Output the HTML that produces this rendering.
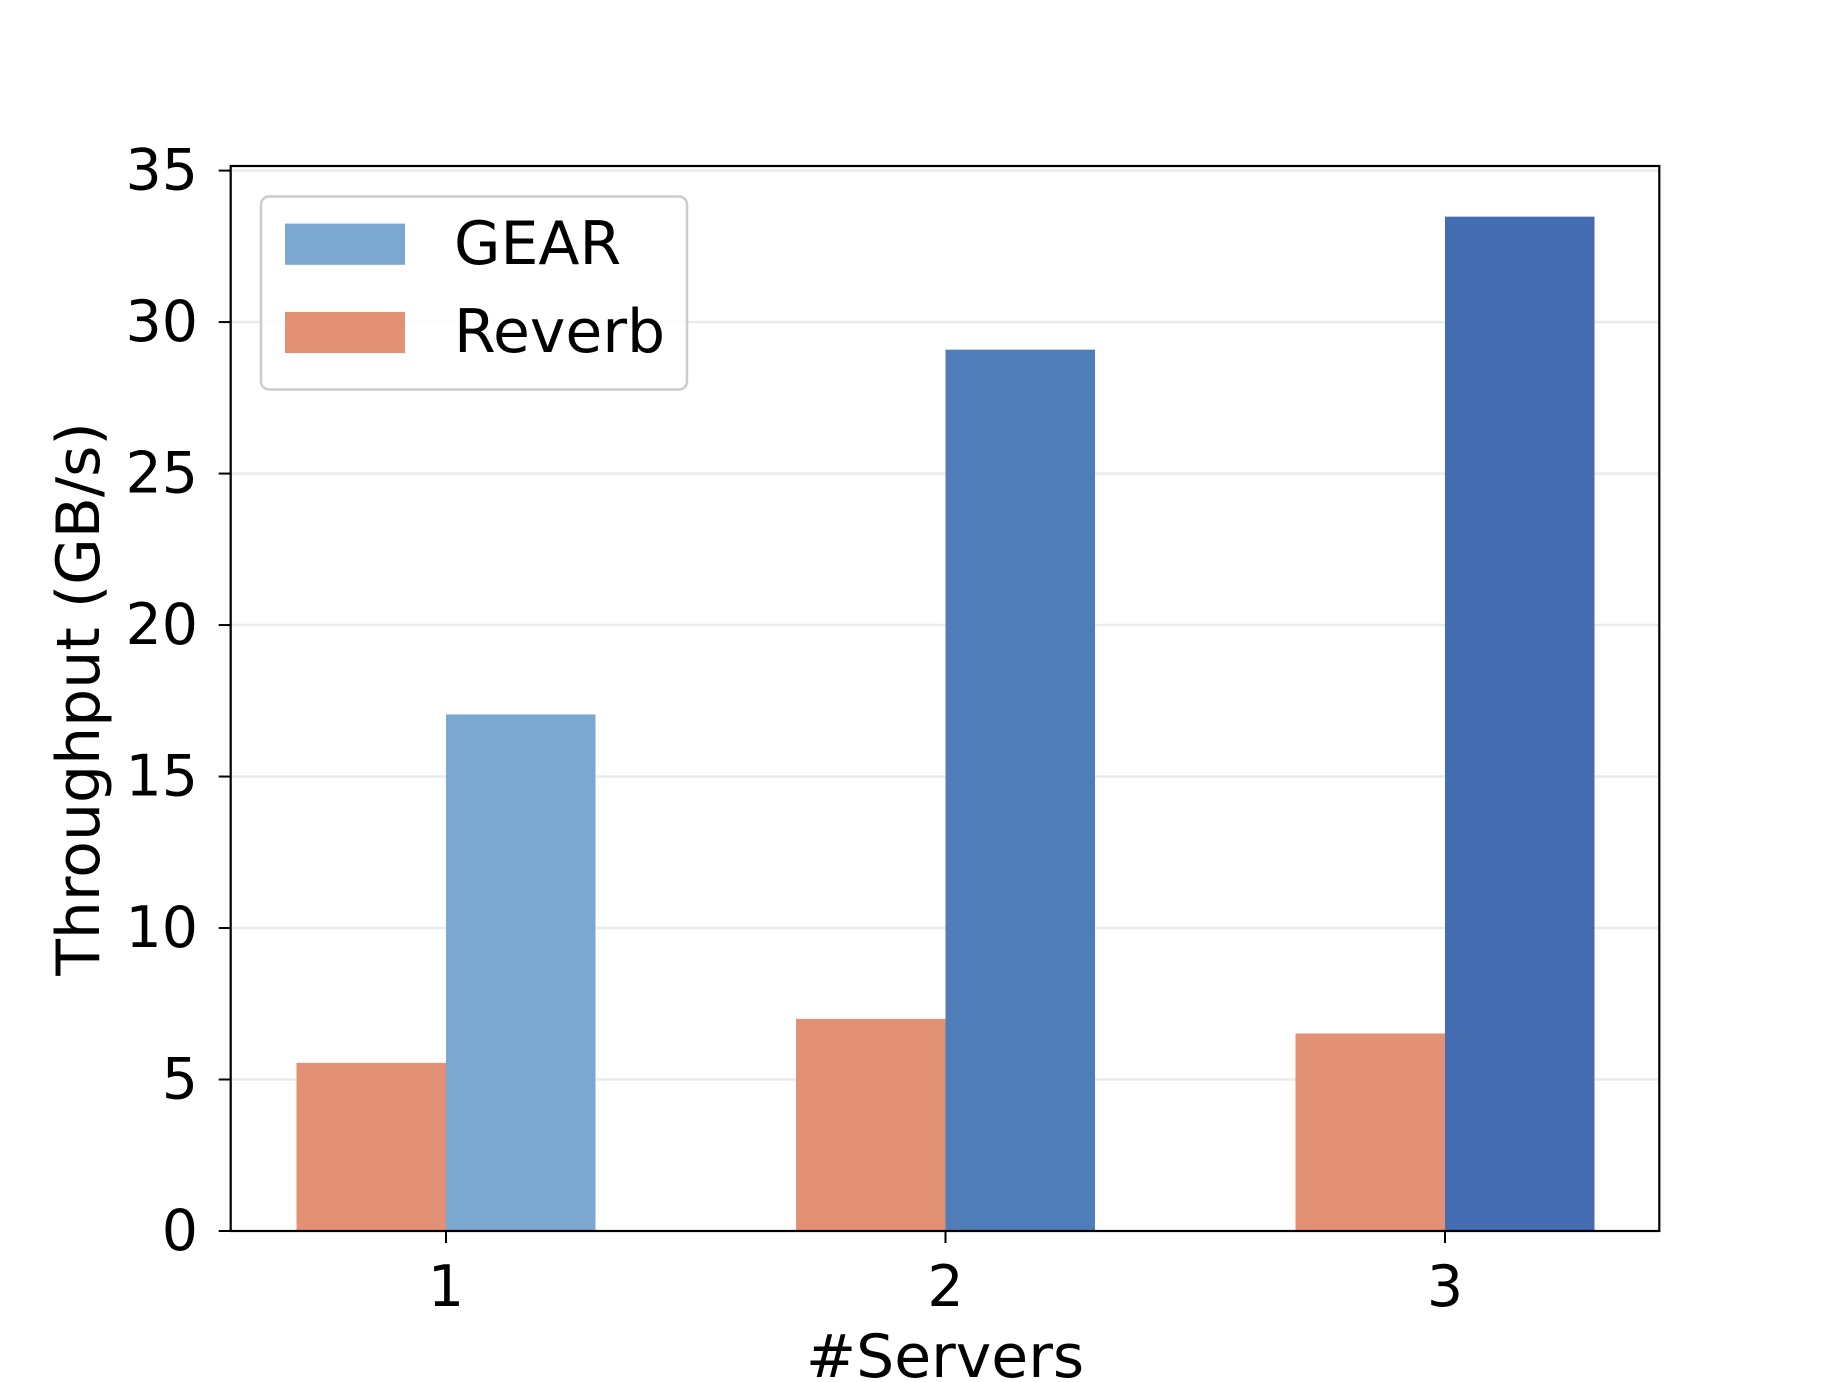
<!DOCTYPE html>
<html><head><meta charset="utf-8"><style>
html,body{margin:0;padding:0;background:#fff;}
svg{display:block;font-family:"DejaVu Sans","Liberation Sans",sans-serif;}
</style></head><body>
<svg id="chart" width="1843" height="1382" viewBox="0 0 1843 1382">
<g id="grid"></g>
<g id="bars"></g>
<rect x="230.7" y="166" width="1428.6" height="1065" fill="none" stroke="#000" stroke-width="2.2"/>
<g id="yticks"></g>
<g id="xticks"></g>
<text x="79" y="699" font-size="60" text-anchor="middle" dominant-baseline="central" transform="rotate(-90 79 699)">Throughput (GB/s)</text>
<text x="945" y="1377" font-size="60" text-anchor="middle">#Servers</text>
<g>
<rect x="261" y="196.5" width="426" height="193" rx="8" fill="#fff" fill-opacity="0.8" stroke="#ccc" stroke-width="2.5"/>
<rect x="285" y="223.6" width="120" height="41.2" fill="#7ba7d0"/>
<text x="454" y="264" font-size="60">GEAR</text>
<rect x="285" y="311.9" width="120" height="41.2" fill="#e39174"/>
<text x="454" y="352" font-size="60">Reverb</text>
</g>
</svg>
<script>
const categories = ["1","2","3"];
const reverbValues = [5.55, 7.0, 6.52];
const gearValues = [17.05, 29.09, 33.48];
const gearColors = ["#7ba7d0","#4f7db8","#436db0"];
const yTicks = [0,5,10,15,20,25,30,35];

const NS="http://www.w3.org/2000/svg";
const L=230.7,R=1659.3,T=166,B=1231;
const y35=170.6;
const yS=v=>B-(v/35)*(B-y35);
const x0=446, dx=499.5;
const xS=i=>x0+i*dx;
function mk(t,a,p){const e=document.createElementNS(NS,t);for(const k in a)e.setAttribute(k,a[k]);p.appendChild(e);return e;}
const grid=document.getElementById('grid'),bars=document.getElementById('bars'),yt=document.getElementById('yticks'),xt=document.getElementById('xticks');
yTicks.forEach(v=>{
  const y=yS(v);
  if(v>0){const g=mk('line',{x1:L,x2:R,y1:y,y2:y,stroke:'#ebebeb','stroke-width':2.5},grid);
  
  }
  const t=mk('line',{x1:L-12,x2:L,y1:y,y2:y,stroke:'#000','stroke-width':2},yt);
  
  
  const l=mk('text',{x:198,y:y,'font-size':57,'text-anchor':'end','dominant-baseline':'central'},yt);
  l.textContent=v;
  
  
});
categories.forEach((c,i)=>{
  const cx=xS(i);
  const w=149.5;
  const r=mk('rect',{x:cx-w,y:yS(reverbValues[i]),width:w,height:B-yS(reverbValues[i]),fill:'#e39174'},bars);
  
  
  const g=mk('rect',{x:cx,y:yS(gearValues[i]),width:w,height:B-yS(gearValues[i]),fill:gearColors[i]},bars);
  
  
  const t=mk('line',{x1:cx,x2:cx,y1:B,y2:B+12,stroke:'#000','stroke-width':2},xt);
  
  
  const l=mk('text',{x:cx,y:1306,'font-size':57,'text-anchor':'middle'},xt);
  l.textContent=c;
  
  
});
</script>
</body></html>
